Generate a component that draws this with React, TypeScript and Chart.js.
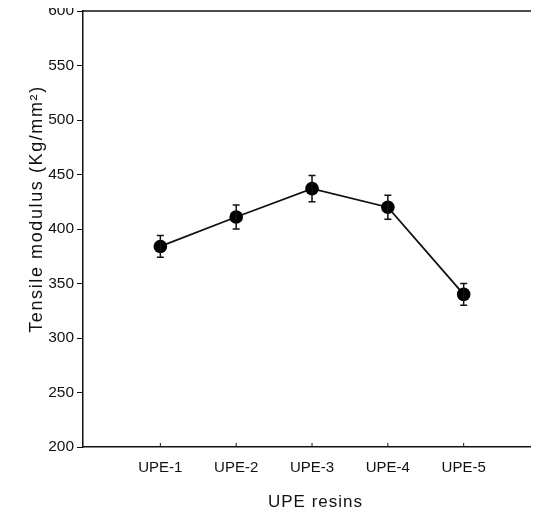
import React, { useEffect, useRef } from 'react';
import { Chart, registerables } from 'chart.js';

Chart.register(...registerables);

const categories = ['UPE-1', 'UPE-2', 'UPE-3', 'UPE-4', 'UPE-5'];
const positions = [1, 2, 3, 4, 5];
const modulus = [384, 411, 437, 420, 340];
const errors = [10, 11, 12, 11, 10];
const yTicks = [200, 250, 300, 350, 400, 450, 500, 550, 600];
const xTitle = 'UPE resins';
const yTitle = 'Tensile modulus (Kg/mm²)';

const FONT = '"Liberation Sans", Arial, Helvetica, sans-serif';
const INK = '#111111';

const decorPlugin = {
  id: 'decor',
  afterDatasetsDraw(chart: any) {
    const { ctx, chartArea, scales } = chart;
    const xs = scales.x;
    const ys = scales.y;
    ctx.save();
    ctx.strokeStyle = INK;
    // top border
    ctx.lineWidth = 1.5;
    ctx.beginPath();
    ctx.moveTo(chartArea.left, chartArea.top);
    ctx.lineTo(chartArea.right, chartArea.top);
    ctx.stroke();
    // inward x ticks
    ctx.lineWidth = 1;
    positions.forEach((p) => {
      const x = xs.getPixelForValue(p);
      ctx.beginPath();
      ctx.moveTo(x, chartArea.bottom);
      ctx.lineTo(x, chartArea.bottom - 4);
      ctx.stroke();
    });
    // error bars
    ctx.lineWidth = 1.5;
    positions.forEach((p, i) => {
      const x = xs.getPixelForValue(p);
      const yHi = ys.getPixelForValue(modulus[i] + errors[i]);
      const yLo = ys.getPixelForValue(modulus[i] - errors[i]);
      ctx.beginPath();
      ctx.moveTo(x, yHi);
      ctx.lineTo(x, yLo);
      ctx.moveTo(x - 3.5, yHi);
      ctx.lineTo(x + 3.5, yHi);
      ctx.moveTo(x - 3.5, yLo);
      ctx.lineTo(x + 3.5, yLo);
      ctx.stroke();
    });
    // axis titles
    ctx.fillStyle = INK;
    ctx.textAlign = 'center';
    ctx.textBaseline = 'alphabetic';
    try { (ctx as any).letterSpacing = '1px'; } catch (e) {}
    ctx.font = `17px ${FONT}`;
    ctx.fillText(xTitle, (chartArea.left + chartArea.right) / 2 + 5, chartArea.bottom + 59.5);
    try { (ctx as any).letterSpacing = '1.6px'; } catch (e) {}
    ctx.font = `18px ${FONT}`;
    ctx.translate(chartArea.left - 41.5, (chartArea.top + chartArea.bottom) / 2 - 20);
    ctx.rotate(-Math.PI / 2);
    ctx.fillText(yTitle, 0, 0);
    ctx.restore();
  },
};

export default function App() {
  const ref = useRef<HTMLCanvasElement | null>(null);

  useEffect(() => {
    if (!ref.current) return;
    const chart = new Chart(ref.current, {
      type: 'line',
      data: {
        datasets: [
          {
            label: 'Tensile modulus',
            data: positions.map((p, i) => ({ x: p, y: modulus[i] })),
            borderColor: INK,
            backgroundColor: INK,
            borderWidth: 1.8,
            pointRadius: 6.8,
            pointHoverRadius: 6.8,
            pointBackgroundColor: '#000',
            pointBorderColor: '#000',
            pointBorderWidth: 0,
            tension: 0,
          },
        ],
      },
      options: {
        responsive: false,
        animation: false,
        layout: { autoPadding: false, padding: { top: 11, right: 1, bottom: 0, left: 0 } },
        plugins: {
          legend: { display: false },
          tooltip: { enabled: false },
        },
        scales: {
          x: {
            type: 'linear',
            min: -0.02,
            max: 5.98,
            grid: { display: false },
            border: { display: true, color: INK, width: 1.5 },
            afterBuildTicks: (scale: any) => {
              scale.ticks = positions.map((v) => ({ value: v }));
            },
            afterFit: (scale: any) => {
              scale.height = 63;
              scale.paddingLeft = 0;
              scale.paddingRight = 0;
            },
            ticks: {
              padding: 4,
              color: INK,
              font: { family: FONT, size: 15 },
              maxRotation: 0,
              autoSkip: false,
              callback: (v: any) => {
                const idx = positions.indexOf(Number(v));
                return idx >= 0 ? categories[idx] : '';
              },
            },
          },
          y: {
            type: 'linear',
            min: 200,
            max: 600,
            afterBuildTicks: (scale: any) => {
              scale.ticks = yTicks.map((v) => ({ value: v }));
            },
            afterFit: (scale: any) => {
              scale.width = 83;
              scale.paddingTop = 0;
              scale.paddingBottom = 0;
            },
            grid: {
              display: true,
              drawOnChartArea: false,
              drawTicks: true,
              tickLength: 6,
              tickColor: INK,
              tickWidth: 1,
            },
            border: { display: true, color: INK, width: 1.5 },
            ticks: {
              padding: 3,
              color: INK,
              font: { family: FONT, size: 15.5 },
            },
          },
        },
      },
      plugins: [decorPlugin],
    });
    return () => chart.destroy();
  }, []);

  return (
    <div style={{ position: 'relative', width: 539, height: 510, margin: '-8px 0 0 -8px', background: '#fff' }}>
      <canvas ref={ref} width={539} height={510} style={{ display: 'block', width: 539, height: 510 }} />
    </div>
  );
}
